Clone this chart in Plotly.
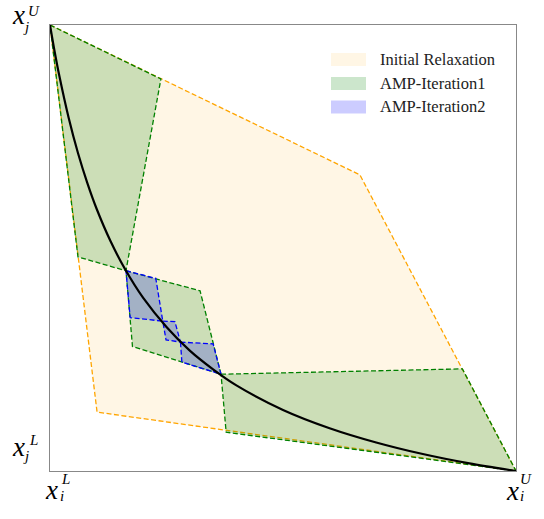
import plotly.graph_objects as go

# Normalised domain: x_i in [x_i^L, x_i^U] -> [0, 1], x_j in [x_j^L, x_j^U] -> [0, 1]

# Bilinear curve x_j = f(x_i), sampled points
curve_x = [0.0, 0.01, 0.02, 0.04, 0.06, 0.08, 0.10, 0.13, 0.16, 0.20, 0.25,
           0.30, 0.35, 0.40, 0.50, 0.60, 0.70, 0.80, 0.90, 1.0]
curve_y = [1.0, 0.940, 0.886, 0.792, 0.713, 0.646, 0.588, 0.515, 0.4545, 0.388, 0.323,
           0.270, 0.228, 0.192, 0.137, 0.096, 0.064, 0.038, 0.017, 0.0]

# Initial relaxation polygon
relax_x = [0.0, 0.665, 1.0, 0.101]
relax_y = [1.0, 0.664, 0.0, 0.132]

# AMP iteration 1 partitions
amp1_polys = [
    ([0.0, 0.238, 0.163, 0.060], [1.0, 0.879, 0.449, 0.480]),
    ([0.163, 0.322, 0.367, 0.177], [0.449, 0.404, 0.217, 0.279]),
    ([0.367, 0.885, 1.0, 0.378], [0.217, 0.229, 0.0, 0.087]),
]

# AMP iteration 2 partitions
amp2_polys = [
    ([0.163, 0.227, 0.242, 0.172], [0.449, 0.432, 0.336, 0.344]),
    ([0.242, 0.268, 0.280, 0.249], [0.336, 0.335, 0.289, 0.294]),
    ([0.280, 0.350, 0.367, 0.283], [0.289, 0.285, 0.217, 0.244]),
]

legend_labels = ["Initial Relaxation", "AMP-Iteration1", "AMP-Iteration2"]
fill_colors = ["rgba(255,165,0,0.1)", "rgba(0,128,0,0.2)", "rgba(0,0,255,0.2)"]
edge_colors = ["orange", "green", "blue"]

W, H = 544, 519
L, R, T, B = 50, 516, 25, 471  # plot area in pixels

SERIF = "'Liberation Serif', 'Times New Roman', 'DejaVu Serif', serif"


def px(x):
    return (x - L) / (R - L)


def py(y):
    return (B - y) / (B - T)


fig = go.Figure()


def add_poly(xs, ys, fill, edge):
    fig.add_trace(go.Scatter(
        x=list(xs) + [xs[0]], y=list(ys) + [ys[0]],
        mode="lines", fill="toself", fillcolor=fill,
        line=dict(color=edge, width=1.3, dash="5px,2.5px"),
        hoverinfo="skip", showlegend=False,
    ))


add_poly(relax_x, relax_y, fill_colors[0], edge_colors[0])
for xs, ys in amp1_polys:
    add_poly(xs, ys, fill_colors[1], edge_colors[1])
for xs, ys in amp2_polys:
    add_poly(xs, ys, fill_colors[2], edge_colors[2])

fig.add_trace(go.Scatter(
    x=curve_x, y=curve_y, mode="lines",
    line=dict(color="black", width=2.2, shape="spline", smoothing=0.8),
    hoverinfo="skip", showlegend=False,
))

shapes = []
annotations = []

# Legend patches and labels
row_centers = [59.5, 83.5, 107.0]
for lab, col, yc in zip(legend_labels, fill_colors, row_centers):
    shapes.append(dict(type="rect", xref="paper", yref="paper",
                       x0=px(331), x1=px(366), y0=py(yc - 6.5), y1=py(yc + 6.5),
                       fillcolor=col, line=dict(width=0)))
    annotations.append(dict(xref="paper", yref="paper", x=px(378), y=py(yc),
                            xanchor="left", yanchor="middle", showarrow=False,
                            text=lab, font=dict(family=SERIF, size=16.5, color="#222")))


def math_label(xc, yc, sup, sub, sx, sy, bx, by):
    annotations.append(dict(xref="paper", yref="paper", x=px(xc - 1), y=py(yc - 3.5),
                            xanchor="center", yanchor="middle", showarrow=False,
                            text="<i>x</i>", font=dict(family=SERIF, size=27, color="black")))
    annotations.append(dict(xref="paper", yref="paper", x=px(sx + 0.5), y=py(sy - 1.5),
                            xanchor="center", yanchor="middle", showarrow=False,
                            text="<i>%s</i>" % sup, font=dict(family=SERIF, size=15, color="black")))
    annotations.append(dict(xref="paper", yref="paper", x=px(bx + 1.5), y=py(by),
                            xanchor="center", yanchor="middle", showarrow=False,
                            text="<i>%s</i>" % sub, font=dict(family=SERIF, size=15, color="black")))


math_label(19.7, 18.5, "U", "j", 33.5, 12, 24, 27)
math_label(19.5, 450.5, "L", "j", 33, 441, 24.5, 456)
math_label(52.5, 493, "L", "i", 65, 481, 60.5, 496)
math_label(513, 494, "U", "i", 525, 481, 520, 496)

axis_style = dict(range=[0, 1], showgrid=False, zeroline=False, showticklabels=False,
                  ticks="", showline=True, mirror=True, linecolor="#888", linewidth=1,
                  fixedrange=True)

fig.update_layout(
    width=W, height=H,
    margin=dict(l=L, r=W - R, t=T, b=H - B),
    paper_bgcolor="white", plot_bgcolor="white",
    xaxis=axis_style, yaxis=axis_style,
    shapes=shapes, annotations=annotations,
    showlegend=False,
)

fig.write_html("out.html")
